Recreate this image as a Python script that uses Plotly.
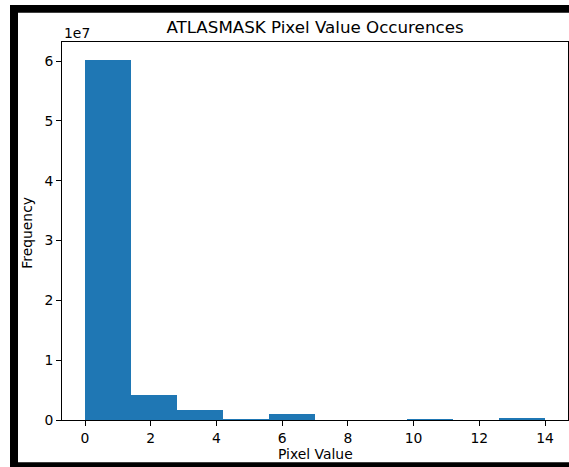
import plotly.graph_objects as go

# Histogram data (10 bins across 0..14)
bin_edges = [0.0, 1.4, 2.8, 4.2, 5.6, 7.0, 8.4, 9.8, 11.2, 12.6, 14.0]
counts = [60200000, 4180000, 1720000, 140000, 1050000, 0, 0, 150000, 0, 330000]
x_ticks = [0, 2, 4, 6, 8, 10, 12, 14]
y_ticks = [0, 1e7, 2e7, 3e7, 4e7, 5e7, 6e7]
y_tick_text = ["0", "1", "2", "3", "4", "5", "6"]

centers = [(bin_edges[i] + bin_edges[i + 1]) / 2 for i in range(len(counts))]
widths = [bin_edges[i + 1] - bin_edges[i] for i in range(len(counts))]

W, H = 569, 467
L, R, T, B = 62, 1, 42, 46.5
PW = W - L - R
PH = H - T - B

def px(x):
    return (x - L) / PW

def py(y):
    return (H - B - y) / PH

FONT = "DejaVu Sans"
FS = 13.9
TFS = 16.7

fig = go.Figure()
fig.add_trace(go.Bar(
    x=centers, y=counts, width=widths,
    marker=dict(color="#1f77b4", line=dict(width=0)),
    hoverinfo="x+y",
))

shapes = []
for (x0, x1, y0, y1) in [(10, 18, 5, 470), (10, 575, 5, 12.7), (10, 575, 462.7, 470)]:
    shapes.append(dict(type="rect", xref="paper", yref="paper",
                       x0=px(x0), x1=px(x1), y0=py(y0), y1=py(y1),
                       fillcolor="black", line=dict(width=0), layer="above"))

fig.update_layout(
    width=W, height=H,
    margin=dict(l=L, r=R, t=T, b=B, pad=0),
    paper_bgcolor="white", plot_bgcolor="white",
    font=dict(family=FONT, size=FS, color="black"),
    showlegend=False,
    bargap=0,
    title=dict(text="ATLASMASK Pixel Value Occurences", x=315 / W, xanchor="center",
               xref="container", yref="container", y=1 - 27 / H, yanchor="middle",
               font=dict(family=FONT, size=TFS, color="black")),
    xaxis=dict(range=[-0.7, 14.7], tickvals=x_ticks, ticks="outside", ticklen=5,
               tickwidth=1, tickcolor="black", showline=True, linecolor="black",
               linewidth=1, mirror=True, showgrid=False, zeroline=False,
               tickfont=dict(size=FS)),
    yaxis=dict(range=[0, 6.32e7], tickvals=y_ticks, ticktext=y_tick_text,
               ticks="outside", ticklen=5, tickwidth=1, tickcolor="black",
               showline=True, linecolor="black", linewidth=1, mirror=True,
               showgrid=False, zeroline=False, tickfont=dict(size=FS)),
    shapes=shapes,
    annotations=[
        dict(text="Pixel Value", xref="paper", yref="paper", x=px(315), y=py(455),
             xanchor="center", yanchor="middle", showarrow=False,
             font=dict(size=FS)),
        dict(text="Frequency", xref="paper", yref="paper", x=px(27), y=py(233),
             xanchor="center", yanchor="middle", textangle=-90, showarrow=False,
             font=dict(size=FS)),
        dict(text="1e7", xref="paper", yref="paper", x=0, y=py(33),
             xanchor="left", yanchor="middle", showarrow=False,
             font=dict(size=FS)),
    ],
)

fig.write_html("out.html",
               config={"displayModeBar": False},
               post_script="document.body.style.margin='0px';"
                           "document.body.style.overflow='hidden';")
